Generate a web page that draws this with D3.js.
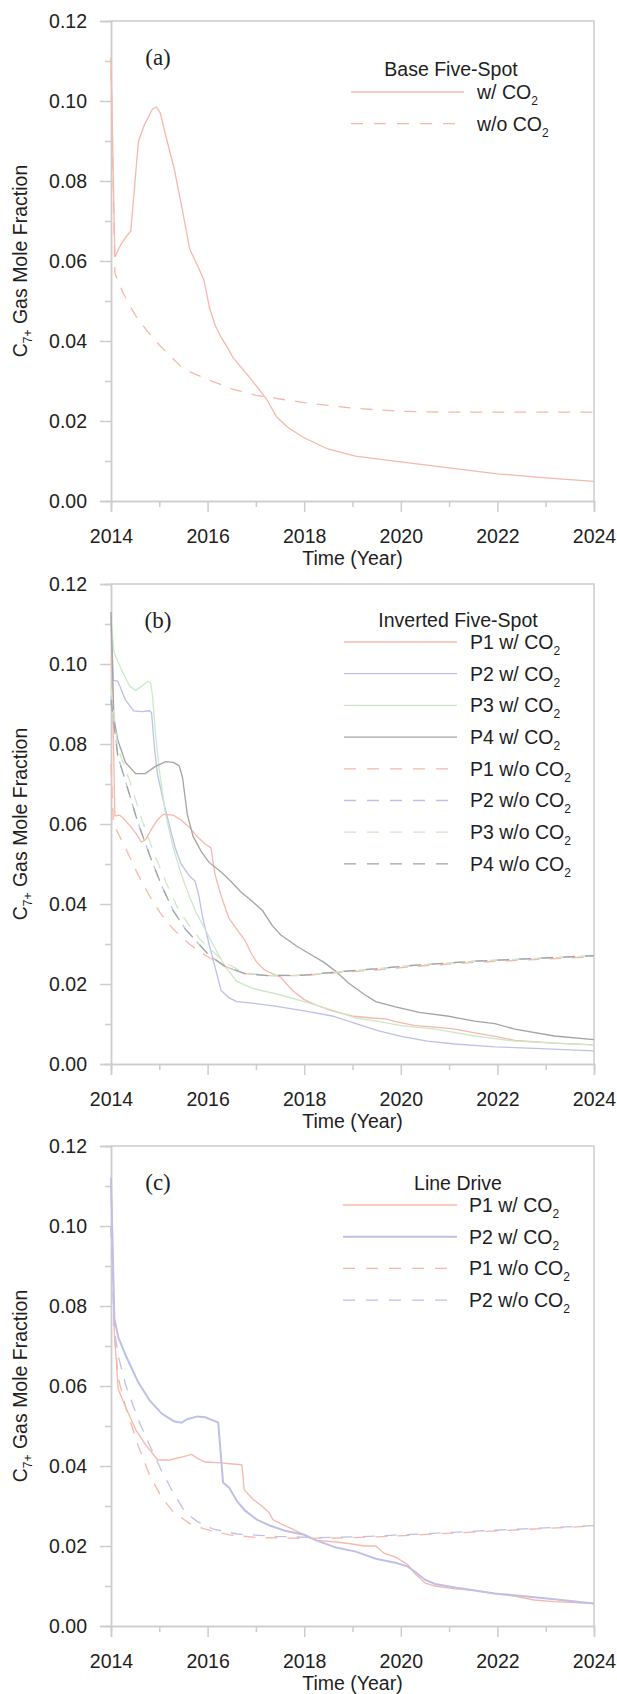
<!DOCTYPE html>
<html>
<head>
<meta charset="utf-8">
<script src="https://cdn.jsdelivr.net/npm/d3@7"></script>
<style>
  body { margin: 0; background: #fff; }
  text { font-family: "Liberation Sans", Arial, sans-serif; fill: #1e1e1e; }
</style>
</head>
<body>
<svg id="chart"></svg>
<script>
// tick values
const yTicks = [0, 0.02, 0.04, 0.06, 0.08, 0.10, 0.12];
const xTicks = [2014, 2016, 2018, 2020, 2022, 2024];

// (a) base five-spot
const baseWith = [[2014,0.111],[2014.08,0.061],[2014.2,0.064],[2014.29,0.0657],[2014.41,0.0675],[2014.49,0.079],[2014.57,0.090],[2014.69,0.094],[2014.86,0.098],[2014.94,0.0985],[2015.02,0.097],[2015.14,0.091],[2015.31,0.083],[2015.47,0.0733],[2015.63,0.063],[2015.8,0.0586],[2015.92,0.0554],[2016.04,0.0483],[2016.16,0.0438],[2016.29,0.0407],[2016.41,0.0384],[2016.53,0.0358],[2016.78,0.0322],[2017.02,0.0286],[2017.22,0.0255],[2017.43,0.021],[2017.67,0.0183],[2018,0.0158],[2018.49,0.013],[2019.06,0.0112],[2020,0.0098],[2021,0.0083],[2022,0.0068],[2023,0.0058],[2024,0.0049]];
const baseWithout = [[2014,0.108],[2014.08,0.057],[2014.25,0.052],[2014.5,0.0465],[2014.75,0.0425],[2015,0.039],[2015.5,0.033],[2016,0.0304],[2016.5,0.028],[2017,0.0264],[2017.5,0.0255],[2018,0.0246],[2019,0.0232],[2020,0.0224],[2021,0.0222],[2022,0.0222],[2024,0.0222]];

// (b) inverted five-spot
const invP1With = [[2014,0.112],[2014.08,0.062],[2014.18,0.0622],[2014.25,0.0615],[2014.39,0.0596],[2014.51,0.0578],[2014.63,0.0555],[2014.71,0.056],[2014.84,0.0587],[2014.96,0.061],[2015.08,0.0624],[2015.29,0.0622],[2015.45,0.061],[2015.62,0.0592],[2015.78,0.0569],[2015.95,0.055],[2016.07,0.054],[2016.15,0.0476],[2016.28,0.042],[2016.44,0.0365],[2016.6,0.0337],[2016.77,0.031],[2016.89,0.028],[2017.02,0.0254],[2017.18,0.0235],[2017.34,0.0226],[2017.51,0.0217],[2017.76,0.0184],[2018,0.0161],[2018.25,0.0147],[2018.58,0.0133],[2018.99,0.012],[2019.4,0.0115],[2019.69,0.0113],[2019.89,0.0106],[2020.3,0.0096],[2020.71,0.0092],[2021.12,0.0087],[2021.53,0.0078],[2021.95,0.0069],[2022.36,0.0059],[2023.18,0.0052],[2024,0.0048]];
const invP2With = [[2014,0.112],[2014.05,0.0959],[2014.14,0.0957],[2014.3,0.091],[2014.47,0.0883],[2014.64,0.0881],[2014.8,0.0883],[2014.84,0.0878],[2014.9,0.079],[2014.96,0.0726],[2015.08,0.066],[2015.21,0.0596],[2015.33,0.054],[2015.45,0.050],[2015.62,0.0471],[2015.74,0.0457],[2015.82,0.042],[2015.9,0.0365],[2016.03,0.030],[2016.15,0.0244],[2016.28,0.0184],[2016.44,0.0166],[2016.6,0.0156],[2016.93,0.0152],[2017.43,0.0144],[2018,0.0133],[2018.58,0.012],[2019.07,0.0101],[2019.56,0.0082],[2020.01,0.0069],[2020.55,0.0057],[2021.12,0.005],[2021.95,0.0043],[2022.77,0.0039],[2024,0.0033]];
const invP3With = [[2014,0.112],[2014.06,0.103],[2014.22,0.0985],[2014.39,0.0944],[2014.51,0.0934],[2014.63,0.0944],[2014.76,0.0957],[2014.82,0.0953],[2014.86,0.092],[2014.92,0.0828],[2015.0,0.0735],[2015.13,0.0624],[2015.29,0.054],[2015.45,0.0476],[2015.62,0.042],[2015.78,0.0374],[2015.95,0.0337],[2016.15,0.029],[2016.36,0.0244],[2016.6,0.0207],[2016.93,0.0189],[2017.43,0.0175],[2018,0.0156],[2018.58,0.0135],[2019.07,0.0115],[2019.56,0.0106],[2020.01,0.0096],[2020.71,0.0087],[2021.53,0.007],[2022.36,0.0057],[2023.18,0.0052],[2024,0.0048]];
const invP4With = [[2014,0.113],[2014.06,0.0865],[2014.14,0.081],[2014.3,0.0754],[2014.51,0.0726],[2014.71,0.0726],[2014.92,0.0744],[2015.13,0.0756],[2015.29,0.0754],[2015.41,0.0746],[2015.48,0.0717],[2015.58,0.0624],[2015.7,0.0569],[2015.87,0.0531],[2016.03,0.0504],[2016.28,0.048],[2016.48,0.0457],[2016.69,0.043],[2016.93,0.0406],[2017.14,0.0383],[2017.34,0.0346],[2017.51,0.0323],[2017.84,0.0295],[2018.16,0.0272],[2018.41,0.0254],[2018.66,0.0231],[2018.91,0.0203],[2019.23,0.0175],[2019.48,0.0156],[2019.89,0.0143],[2020.38,0.0129],[2020.96,0.012],[2021.53,0.0107],[2021.95,0.0101],[2022.36,0.0087],[2023.18,0.007],[2024,0.0061]];
const invP1Without = [[2014,0.075],[2014.05,0.060],[2014.3,0.054],[2014.55,0.0476],[2014.8,0.042],[2015.04,0.0374],[2015.29,0.0337],[2015.62,0.030],[2015.95,0.0272],[2016.36,0.0244],[2016.77,0.0226],[2017.26,0.0221],[2018,0.0221],[2018.66,0.0228],[2019.48,0.0235],[2020.3,0.0244],[2021.53,0.0254],[2022.77,0.0261],[2024,0.0268]];
const invP2Without = [[2014,0.092],[2014.14,0.077],[2014.3,0.0707],[2014.55,0.0606],[2014.8,0.0522],[2015.04,0.0448],[2015.29,0.0383],[2015.54,0.0337],[2015.78,0.0305],[2016.03,0.0272],[2016.36,0.0244],[2016.77,0.0226],[2017.26,0.0221],[2018,0.0222],[2018.66,0.023],[2019.48,0.0238],[2020.3,0.0247],[2021.53,0.0257],[2022.77,0.0264],[2024,0.027]];
const invP3Without = [[2014,0.094],[2014.14,0.079],[2014.39,0.0707],[2014.63,0.0614],[2014.88,0.053],[2015.13,0.0457],[2015.37,0.0392],[2015.62,0.0346],[2015.86,0.0309],[2016.11,0.0281],[2016.36,0.0253],[2016.77,0.0228],[2017.26,0.0221],[2018,0.0222],[2018.66,0.023],[2019.48,0.0238],[2020.3,0.0247],[2021.53,0.0257],[2022.77,0.0264],[2024,0.027]];
const invP4Without = [[2014,0.091],[2014.14,0.077],[2014.3,0.0707],[2014.55,0.0606],[2014.8,0.0522],[2015.04,0.0448],[2015.29,0.0383],[2015.54,0.0337],[2015.78,0.0305],[2016.03,0.0272],[2016.36,0.0244],[2016.77,0.0226],[2017.26,0.0221],[2018,0.0222],[2018.66,0.023],[2019.48,0.0238],[2020.3,0.0247],[2021.53,0.0257],[2022.77,0.0264],[2024,0.0271]];

// (c) line drive
const lineP1With = [[2014,0.112],[2014.07,0.0731],[2014.15,0.0592],[2014.31,0.0545],[2014.52,0.0489],[2014.72,0.0452],[2014.97,0.0415],[2015.21,0.0415],[2015.46,0.0422],[2015.67,0.0429],[2015.79,0.0419],[2015.95,0.041],[2016.28,0.0408],[2016.53,0.0405],[2016.71,0.0403],[2016.76,0.034],[2016.94,0.0317],[2017.14,0.0298],[2017.27,0.0284],[2017.35,0.0266],[2017.51,0.0256],[2017.76,0.0242],[2018,0.0228],[2018.25,0.0214],[2018.66,0.021],[2018.99,0.0205],[2019.24,0.02],[2019.48,0.02],[2019.65,0.0182],[2019.89,0.0172],[2020.14,0.0154],[2020.3,0.013],[2020.51,0.0107],[2020.71,0.010],[2021.12,0.0093],[2021.53,0.0089],[2021.94,0.0081],[2022.35,0.0075],[2022.76,0.0065],[2023.18,0.0061],[2024,0.0056]];
const lineP2With = [[2014,0.112],[2014.07,0.0769],[2014.15,0.0722],[2014.31,0.0675],[2014.56,0.061],[2014.8,0.0564],[2015.05,0.0531],[2015.3,0.0512],[2015.46,0.0508],[2015.58,0.0517],[2015.79,0.0524],[2015.95,0.0522],[2016.2,0.051],[2016.22,0.0508],[2016.32,0.0359],[2016.45,0.0345],[2016.61,0.0312],[2016.77,0.0289],[2017.02,0.0266],[2017.27,0.0252],[2017.6,0.0238],[2018,0.0228],[2018.25,0.0214],[2018.66,0.0196],[2019.07,0.0186],[2019.48,0.0168],[2019.89,0.0158],[2020.14,0.0149],[2020.3,0.0135],[2020.51,0.0115],[2020.71,0.0105],[2021.12,0.0096],[2021.53,0.0089],[2021.94,0.0081],[2022.35,0.0077],[2023.18,0.0067],[2024,0.0056]];
const lineP1Without = [[2014,0.10],[2014.07,0.073],[2014.15,0.062],[2014.31,0.0545],[2014.56,0.0452],[2014.8,0.0377],[2015.05,0.0321],[2015.3,0.0284],[2015.63,0.0256],[2015.95,0.0242],[2016.45,0.0228],[2017.02,0.0221],[2018,0.0219],[2019.07,0.0221],[2019.89,0.0225],[2021.53,0.0235],[2024,0.025]];
const lineP2Without = [[2014,0.10],[2014.07,0.074],[2014.15,0.0675],[2014.31,0.060],[2014.56,0.0517],[2014.8,0.0452],[2015.05,0.0387],[2015.3,0.0331],[2015.54,0.0284],[2015.79,0.0261],[2016.12,0.0242],[2016.61,0.023],[2017.43,0.0224],[2018.25,0.0221],[2019.07,0.0223],[2019.89,0.0227],[2021.53,0.0237],[2024,0.0251]];

const pink = "#f6b8ab", lilac = "#bfc0e8", green = "#cbe9c6", grey = "#a4a4a4";

const panels = [
  {tag: "(a)", title: "Base Five-Spot", top: 21, titleDy: 48, rowDy: 71, lineX: [351, 464], labelX: 477, titleX: 451,
   series: [
     {label: "w/ CO", data: baseWith, color: pink},
     {label: "w/o CO", data: baseWithout, color: pink, dash: true}
   ]},
  {tag: "(b)", title: "Inverted Five-Spot", top: 584, titleDy: 36, rowDy: 58, lineX: [344, 457], labelX: 470, titleX: 458,
   series: [
     {label: "P1 w/ CO", data: invP1With, color: pink},
     {label: "P2 w/ CO", data: invP2With, color: lilac},
     {label: "P3 w/ CO", data: invP3With, color: green},
     {label: "P4 w/ CO", data: invP4With, color: grey},
     {label: "P1 w/o CO", data: invP1Without, color: pink, dash: true},
     {label: "P2 w/o CO", data: invP2Without, color: lilac, dash: true},
     {label: "P3 w/o CO", data: invP3Without, color: green, dash: true},
     {label: "P4 w/o CO", data: invP4Without, color: grey, dash: true}
   ]},
  {tag: "(c)", title: "Line Drive", top: 1146, titleDy: 37, rowDy: 59, lineX: [343, 457], labelX: 469, titleX: 458,
   series: [
     {label: "P1 w/ CO", data: lineP1With, color: pink},
     {label: "P2 w/ CO", data: lineP2With, color: lilac, width: 2},
     {label: "P1 w/o CO", data: lineP1Without, color: pink, dash: true},
     {label: "P2 w/o CO", data: lineP2Without, color: lilac, dash: true}
   ]}
];

const W = 617, H = 1694;
const left = 111, plotW = 483, plotH = 480, rowStep = 31.7;
const axisColor = "#cdcdcd";

const svg = d3.select("#chart").attr("width", W).attr("height", H);

const x = d3.scaleLinear().domain([2014, 2024]).range([0, plotW]);
const y = d3.scaleLinear().domain([0, 0.12]).range([plotH, 0]);

const line = d3.line()
  .x(d => x(d[0]))
  .y(d => y(d[1]));

panels.forEach(p => {
  const g = svg.append("g").attr("transform", "translate(" + left + "," + p.top + ")");

  // frame top + right
  g.append("path")
    .attr("d", "M0,0H" + plotW + "V" + plotH)
    .attr("fill", "none")
    .attr("stroke", axisColor)
    .attr("stroke-width", 1.5);

  // y axis
  g.append("g")
    .call(d3.axisLeft(y).tickValues(yTicks).tickSize(11).tickPadding(13).tickFormat(d3.format(".2f")));
  g.append("g")
    .call(d3.axisLeft(y).tickValues(d3.range(0.01, 0.12, 0.02)).tickSize(6).tickFormat(""));

  // x axis
  g.append("g")
    .attr("transform", "translate(0," + plotH + ")")
    .call(d3.axisBottom(x).tickValues(xTicks).tickSize(11).tickPadding(17).tickFormat(d3.format("d")));
  g.append("g")
    .attr("transform", "translate(0," + plotH + ")")
    .call(d3.axisBottom(x).tickValues(d3.range(2015, 2024, 2)).tickSize(6).tickFormat(""));

  g.selectAll(".domain, .tick line")
    .attr("stroke", axisColor)
    .attr("stroke-width", 1.5);
  g.selectAll(".tick text")
    .attr("font-size", 19.5)
    .attr("font-family", "Liberation Sans, Arial, sans-serif")
    .attr("fill", "#1e1e1e");

  // curves
  g.selectAll("path.series")
    .data(p.series)
    .enter().append("path")
    .attr("class", "series")
    .attr("d", d => line(d.data))
    .attr("fill", "none")
    .attr("stroke", d => d.color)
    .attr("stroke-width", d => d.width || 1.3)
    .attr("stroke-dasharray", d => d.dash ? "12,10" : null);

  // panel tag
  g.append("text")
    .attr("x", 158 - left)
    .attr("y", 36)
    .attr("dy", "0.35em")
    .attr("text-anchor", "middle")
    .style("font-family", "Liberation Serif, Times New Roman, serif")
    .attr("font-size", 23)
    .text(p.tag);

  // y title
  const yt = g.append("text")
    .attr("transform", "translate(" + (20 - left) + "," + (plotH / 2) + ") rotate(-90)")
    .attr("text-anchor", "middle")
    .attr("dy", "0.35em")
    .attr("font-size", 19.5);
  yt.append("tspan").text("C");
  yt.append("tspan").attr("font-size", 12).attr("dy", 5).text("7+");
  yt.append("tspan").attr("dy", -5).text(" Gas Mole Fraction");

  // x title
  g.append("text")
    .attr("x", plotW / 2)
    .attr("y", plotH + 57)
    .attr("dy", "0.35em")
    .attr("text-anchor", "middle")
    .attr("font-size", 19.5)
    .text("Time (Year)");

  // legend
  const lg = g.append("g").attr("class", "legend");
  lg.append("text")
    .attr("x", p.titleX - left)
    .attr("y", p.titleDy)
    .attr("dy", "0.35em")
    .attr("text-anchor", "middle")
    .attr("font-size", 19.5)
    .text(p.title);

  lg.selectAll("g.row")
    .data(p.series)
    .enter().append("g")
    .attr("class", "row")
    .each(function(d, i) {
      const r = d3.select(this);
      const ry = p.rowDy + i * rowStep;
      r.append("line")
        .attr("x1", p.lineX[0] - left)
        .attr("x2", p.lineX[1] - left)
        .attr("y1", ry)
        .attr("y2", ry)
        .attr("stroke", d.color)
        .attr("stroke-width", d.width || 1.3)
        .attr("stroke-dasharray", d.dash ? "12,11" : null);
      const t = r.append("text")
        .attr("x", p.labelX - left)
        .attr("y", ry)
        .attr("dy", "0.35em")
        .attr("font-size", 19.5);
      t.append("tspan").text(d.label);
      t.append("tspan").attr("font-size", 12).attr("dy", 6).text("2");
    });
});
</script>
</body>
</html>
